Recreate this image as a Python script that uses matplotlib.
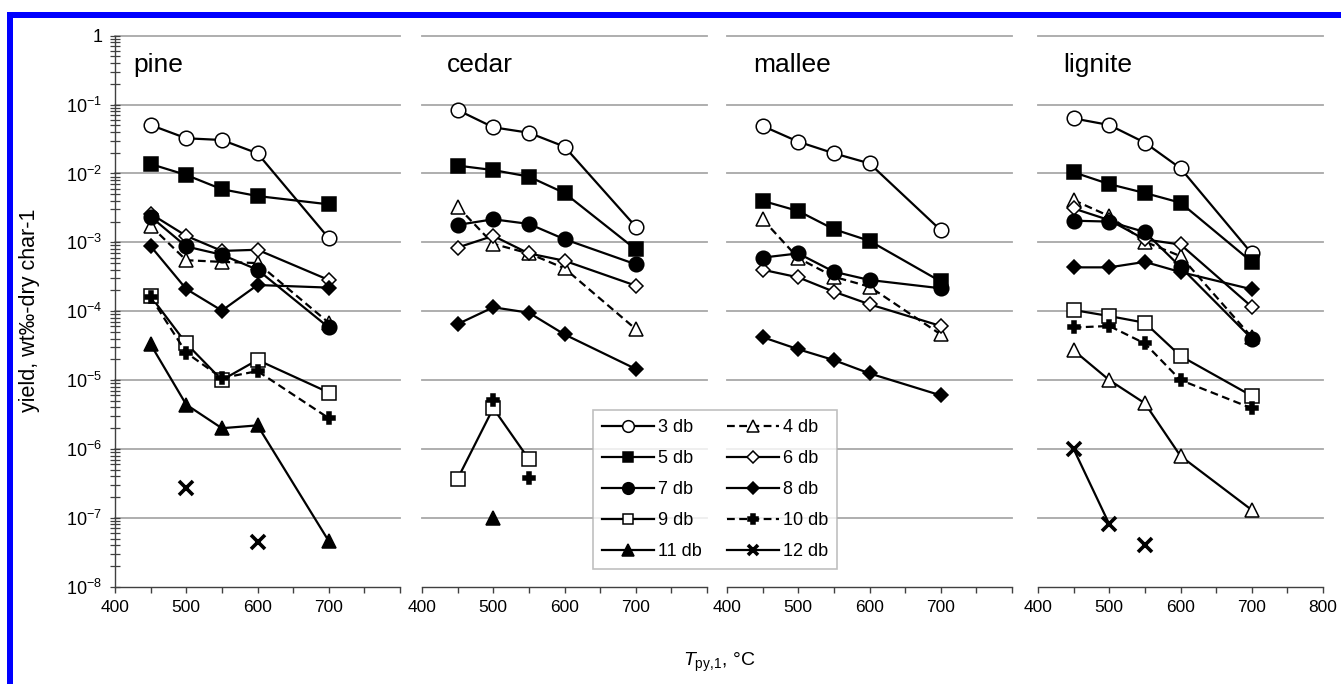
import numpy as np
import matplotlib
matplotlib.use("Agg")
import matplotlib.pyplot as plt
from matplotlib.lines import Line2D
from matplotlib.patches import Rectangle
import matplotlib.ticker as mticker

plt.rcParams['font.family'] = ['Liberation Sans', 'DejaVu Sans']
plt.rcParams['mathtext.fontset'] = 'custom'
plt.rcParams['mathtext.rm'] = 'Liberation Sans'
plt.rcParams['mathtext.it'] = 'Liberation Sans:italic'
plt.rcParams['mathtext.bf'] = 'Liberation Sans:bold'

nan = np.nan

# ---------------- data ----------------
temperatures = [450, 500, 550, 600, 700]
panels = ["pine", "cedar", "mallee", "lignite"]
series_names = ["3 db", "4 db", "5 db", "6 db", "7 db",
                "8 db", "9 db", "10 db", "11 db", "12 db"]

pine_3db = [0.0505, 0.0324, 0.0306, 0.0196, 0.00115]
pine_4db = [0.00173, 0.00055, 0.00052, 0.0005, 6.8e-5]
pine_5db = [0.0137, 0.0095, 0.0059, 0.0047, 0.00356]
pine_6db = [0.0026, 0.00124, 0.00075, 0.00078, 0.000284]
pine_7db = [0.00236, 0.00087, 0.00066, 0.0004, 5.8e-5]
pine_8db = [0.00088, 0.00021, 0.000102, 0.00024, 0.00022]
pine_9db = [1.65e-4, 3.4e-5, 1.0e-5, 1.96e-5, 6.6e-6]
pine_10db = [1.6e-4, 2.5e-5, 1.07e-5, 1.35e-5, 2.8e-6]
pine_11db = [3.3e-5, 4.4e-6, 2.0e-6, 2.2e-6, 4.6e-8]
pine_12db = [nan, 2.75e-7, nan, 4.4e-8, nan]

cedar_3db = [0.0834, 0.0468, 0.039, 0.0245, 0.00169]
cedar_4db = [0.0033, 0.00095, 0.00069, 0.00042, 5.5e-5]
cedar_5db = [0.013, 0.0112, 0.009, 0.0052, 0.00079]
cedar_6db = [0.00084, 0.00124, 0.00069, 0.00054, 0.000235]
cedar_7db = [0.00179, 0.00216, 0.00185, 0.00111, 0.00048]
cedar_8db = [6.5e-5, 1.14e-4, 9.5e-5, 4.6e-5, 1.45e-5]
cedar_9db = [3.7e-7, 3.9e-6, 7.1e-7, nan, nan]
cedar_10db = [nan, 5.2e-6, 3.75e-7, nan, nan]
cedar_11db = [nan, 1.0e-7, nan, nan, nan]
cedar_12db = [nan, nan, nan, nan, nan]

mallee_3db = [0.0489, 0.0289, 0.0196, 0.014, 0.0015]
mallee_4db = [0.00216, 0.00059, 0.000316, 0.000227, 4.6e-5]
mallee_5db = [0.004, 0.00285, 0.00155, 0.00105, 0.00027]
mallee_6db = [0.0004, 0.00031, 0.000192, 0.000126, 6.1e-5]
mallee_7db = [0.0006, 0.00069, 0.000374, 0.000284, 0.000215]
mallee_8db = [4.2e-5, 2.8e-5, 1.95e-5, 1.25e-5, 6.0e-6]
mallee_9db = [nan, nan, nan, nan, nan]
mallee_10db = [nan, nan, nan, nan, nan]
mallee_11db = [nan, nan, nan, nan, nan]
mallee_12db = [nan, nan, nan, nan, nan]

lignite_3db = [0.063, 0.0505, 0.028, 0.0119, 0.00069]
lignite_4db = [0.0041, 0.0024, 0.00102, 0.00063, 4.2e-5]
lignite_5db = [0.0104, 0.007, 0.0052, 0.00376, 0.00052]
lignite_6db = [0.0031, 0.0021, 0.0011, 0.00093, 0.000116]
lignite_7db = [0.00206, 0.002, 0.00141, 0.00044, 4.0e-5]
lignite_8db = [0.000433, 0.000433, 0.00052, 0.00037, 0.000208]
lignite_9db = [1.04e-4, 8.5e-5, 6.8e-5, 2.24e-5, 5.9e-6]
lignite_10db = [5.8e-5, 6.1e-5, 3.4e-5, 1.0e-5, 3.9e-6]
lignite_11db = [2.7e-5, 1.0e-5, 4.6e-6, 7.9e-7, 1.3e-7]
lignite_12db = [1.0e-6, 8.1e-8, nan, nan, nan]
lignite_12db_isolated = [nan, nan, 4.0e-8, nan, nan]

data = {
    "pine": [pine_3db, pine_4db, pine_5db, pine_6db, pine_7db,
             pine_8db, pine_9db, pine_10db, pine_11db, pine_12db],
    "cedar": [cedar_3db, cedar_4db, cedar_5db, cedar_6db, cedar_7db,
              cedar_8db, cedar_9db, cedar_10db, cedar_11db, cedar_12db],
    "mallee": [mallee_3db, mallee_4db, mallee_5db, mallee_6db, mallee_7db,
               mallee_8db, mallee_9db, mallee_10db, mallee_11db, mallee_12db],
    "lignite": [lignite_3db, lignite_4db, lignite_5db, lignite_6db, lignite_7db,
                lignite_8db, lignite_9db, lignite_10db, lignite_11db, lignite_12db],
}
# series drawn without connecting line in a panel
markers_only = {"cedar": ["10 db"]}
# series drawn with open markers in a panel
open_override = {"lignite": ["11 db"]}

ytick_values = [1, 1e-1, 1e-2, 1e-3, 1e-4, 1e-5, 1e-6, 1e-7, 1e-8]
ytick_labels = ["1"] + [r"$10^{-%d}$" % k for k in range(1, 9)]
xtick_values = [400, 500, 600, 700, 800]

# ---------------- styles ----------------
styles = {
    "3 db": dict(marker="o", mfc="white", ls="-", ms=10.5),
    "4 db": dict(marker="^", mfc="white", ls="--", ms=10.5),
    "5 db": dict(marker="s", mfc="black", ls="-", ms=9.5),
    "6 db": dict(marker="D", mfc="white", ls="-", ms=7.5),
    "7 db": dict(marker="o", mfc="black", ls="-", ms=10.5),
    "8 db": dict(marker="D", mfc="black", ls="-", ms=7.5),
    "9 db": dict(marker="s", mfc="white", ls="-", ms=9.5),
    "10 db": dict(marker="P", mfc="black", ls="--", ms=9),
    "11 db": dict(marker="^", mfc="black", ls="-", ms=10.5),
    "12 db": dict(marker="x", mfc="black", ls="-", ms=9.5),
}

W, H = 1341, 684
fig = plt.figure(figsize=(W / 100, H / 100), dpi=100)
fig.patch.set_facecolor("white")

left_px = [115, 422, 727, 1038]
width_px = 285
top_px, bot_px = 35.7, 586.7
title_off = [18, 25, 26, 25]

grid_color = "#a8a8a8"


def make_line_kwargs(sname, panel=None):
    st = dict(styles[sname])
    ls = st.pop("ls")
    mfc = st.pop("mfc")
    if panel is not None:
        if sname in open_override.get(panel, []):
            mfc = "white"
        if sname in markers_only.get(panel, []):
            ls = "none"
    mew = 2.6 if st["marker"] == "x" else 1.1
    kw = dict(ls=ls, color="black", lw=1.6, mfc=mfc, mec="black", mew=mew, **st)
    if ls == "--":
        kw["dashes"] = (3.5, 2)
    return kw


for i, name in enumerate(panels):
    ax = fig.add_axes([left_px[i] / W, 1 - bot_px / H, width_px / W, (bot_px - top_px) / H])
    ax.set_yscale("log")
    ax.set_ylim(1e-8, 1)
    ax.set_xlim(400, 800)
    for s in ["top", "right"]:
        ax.spines[s].set_visible(False)
    ax.spines["bottom"].set_color("#404040")
    ax.spines["bottom"].set_linewidth(1.0)
    ax.spines["left"].set_color("#404040")
    ax.spines["left"].set_linewidth(1.0)
    for y in ytick_values[:-1]:
        ax.axhline(y, color=grid_color, lw=1.3, zorder=0.5, clip_on=False)

    ax.set_xticks(xtick_values)
    if name == "lignite":
        ax.set_xticklabels([str(v) for v in xtick_values])
    else:
        ax.set_xticklabels([str(v) for v in xtick_values[:-1]] + [""])
    ax.xaxis.set_minor_locator(mticker.MultipleLocator(50))
    ax.tick_params(axis="x", which="both", direction="out", length=4.5,
                   width=1.0, color="#404040", labelsize=12.5, pad=5)

    if i == 0:
        ax.set_yticks(ytick_values)
        ax.set_yticklabels(ytick_labels)
        ax.yaxis.set_minor_locator(mticker.LogLocator(base=10, subs=np.arange(2, 10), numticks=20))
        ax.yaxis.set_minor_formatter(mticker.NullFormatter())
        ax.tick_params(axis="y", which="both", direction="inout", length=6.5,
                       width=0.9, color="#404040", labelsize=13, pad=6)
    else:
        ax.spines["left"].set_visible(False)
        ax.set_yticks([])
        ax.yaxis.set_minor_locator(mticker.NullLocator())

    for k, sname in enumerate(series_names):
        vals = np.array(data[name][k], dtype=float)
        if np.all(np.isnan(vals)):
            continue
        ax.plot(temperatures, vals, zorder=3 + k * 0.01, clip_on=False,
                **make_line_kwargs(sname, name))
    if name == "lignite":
        kw = make_line_kwargs("12 db")
        kw["ls"] = "none"
        ax.plot(temperatures, lignite_12db_isolated, zorder=3.2, clip_on=False, **kw)

    ax.text(title_off[i] / width_px, 1 - (72 - top_px) / (bot_px - top_px), name,
            transform=ax.transAxes, fontsize=19, ha="left", va="baseline")

# legend
handles = {s: Line2D([], [], **make_line_kwargs(s)) for s in series_names}
order = ["3 db", "5 db", "7 db", "9 db", "11 db", "4 db", "6 db", "8 db", "10 db", "12 db"]
leg = fig.legend([handles[s] for s in order], order, ncol=2,
                 loc="upper left", bbox_to_anchor=(593 / W, 1 - 410 / H),
                 frameon=True, fancybox=False, edgecolor="#b0b0b0",
                 fontsize=13, handlelength=2.9, handletextpad=0.2,
                 columnspacing=1.4, labelspacing=0.78, borderpad=0.5,
                 borderaxespad=0, markerscale=0.8)
leg.get_frame().set_linewidth(1.2)
leg.set_zorder(10)

# axis labels
fig.text(30 / W, 1 - 310 / H, "yield, wt\u2030-dry char-1", rotation=90,
         ha="center", va="center", fontsize=15.5)
fig.text(719 / W, 1 - 662 / H, r"$\mathit{T}_{\mathrm{py},\!\mathrm{1}}$, °C",
         ha="center", va="center", fontsize=14)

# blue frame
fig.patches.append(Rectangle((7 / W, 0), 6 / W, 1 - 12 / H, transform=fig.transFigure,
                             facecolor="#0000ff", edgecolor="none", zorder=20))
fig.patches.append(Rectangle((7 / W, 1 - 18 / H), 1 - 7 / W, 6 / H, transform=fig.transFigure,
                             facecolor="#0000ff", edgecolor="none", zorder=20))

fig.savefig("out.png", dpi=100, facecolor="white")
